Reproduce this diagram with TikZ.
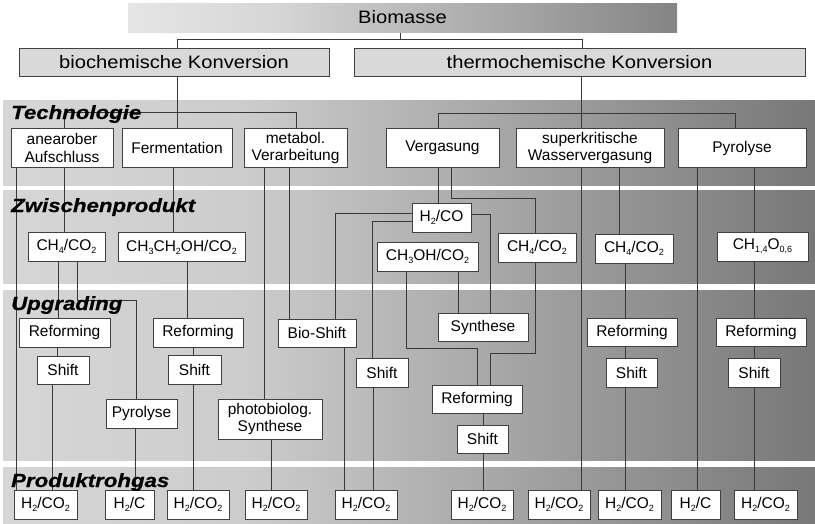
\documentclass[tikz,border=0pt]{standalone}
\usepackage{fontspec}
\setmainfont{Liberation Sans}
\newfontfamily\headfont[FakeStretch=1.17, FakeBold=0.6]{Liberation Sans}
\newfontfamily\widefont[FakeStretch=1.12]{Liberation Sans}

\definecolor{wire}{gray}{0.22}
\definecolor{frame}{gray}{0.25}
\definecolor{convfill}{gray}{0.85}
\definecolor{bandL}{gray}{0.84}
\definecolor{bandM}{gray}{0.80}
\definecolor{bandR}{gray}{0.47}
\definecolor{barL}{gray}{0.90}
\definecolor{barM}{gray}{0.84}
\definecolor{barR}{gray}{0.52}

% left-to-right darkening used for the lane bands and the top bar
\pgfdeclarehorizontalshading{bandshade}{100bp}{color(0bp)=(bandL); color(25bp)=(bandL); color(40bp)=(bandM); color(75bp)=(bandR); color(100bp)=(bandR)}
\pgfdeclarehorizontalshading{barshade}{100bp}{color(0bp)=(barL); color(25bp)=(barL); color(38bp)=(barM); color(75bp)=(barR); color(100bp)=(barR)}

\newcommand{\boxfont}{\fontsize{15.5}{17.5}\selectfont}
\newcommand{\convfont}{\widefont\fontsize{18}{20}\selectfont}
\newcommand{\lanefont}{\headfont\bfseries\itshape\fontsize{19}{21}\selectfont}
\newcommand{\tief}[1]{\raisebox{-0.35ex}{\fontsize{9}{9}\selectfont #1}}

\pgfdeclarelayer{bands}
\pgfdeclarelayer{wires}
\pgfsetlayers{bands,wires,main}

\tikzset{
  unit/.style={draw=frame, fill=white, line width=1pt, inner sep=0pt, align=center, font=\boxfont},
  conv/.style={draw=frame, fill=convfill, line width=1pt, inner sep=0pt, font=\convfont},
  wh/.style 2 args={minimum width=#1pt, minimum height=#2pt},
  lane/.style={anchor=base west, inner sep=0pt, font=\lanefont},
  link/.style={draw=wire, line width=1pt},
}

\begin{document}
\begin{tikzpicture}[x=1pt, y=-1pt]
\useasboundingbox (0,0) rectangle (815,523);

% lane bands
\begin{pgfonlayer}{bands}
  \shade[shading=bandshade] (3,100) rectangle (815,185);
  \shade[shading=bandshade] (3,190) rectangle (815,283);
  \shade[shading=bandshade] (3,290) rectangle (815,460);
  \shade[shading=bandshade] (3,467) rectangle (815,523);
\end{pgfonlayer}

% top level
\node[shade, shading=barshade, inner sep=0pt, wh={549}{29}, font=\convfont] (biomasse) at (402.5,17.5) {Biomasse};
\node[conv, wh={310}{28}] (bio) at (174,62) {biochemische Konversion};
\node[conv, wh={451}{28}] (thermo) at (579.5,62) {thermochemische Konversion};

% Technologie
\node[unit, wh={102}{39}] (anaerob) at (62,148) {anearober\\Aufschluss};
\node[unit, wh={110}{39}] (ferm) at (177,148) {Fermentation};
\node[unit, wh={103}{39}] (metabol) at (295.5,148) {metabol.\\Verarbeitung};
\node[unit, wh={113}{39}] (vergas) at (442.5,148) {Vergasung};
\node[unit, wh={148}{39}] (superkrit) at (590,148) {superkritische\\Wasservergasung};
\node[unit, wh={128}{39}] (pyro) at (742,148) {Pyrolyse};

% Zwischenprodukt
\node[unit, wh={77}{29}] (ch4a) at (66.5,246.5) {CH\tief{4}/CO\tief{2}};
\node[unit, wh={127}{29}] (ethanol) at (181.5,247) {CH\tief{3}CH\tief{2}OH/CO\tief{2}};
\node[unit, wh={59}{29}] (h2co) at (441.5,217.5) {H\tief{2}/CO};
\node[unit, wh={101}{29}] (meoh) at (427.5,256.5) {CH\tief{3}OH/CO\tief{2}};
\node[unit, wh={78}{29}] (ch4b) at (537,247.5) {CH\tief{4}/CO\tief{2}};
\node[unit, wh={78}{29}] (ch4c) at (634,248.5) {CH\tief{4}/CO\tief{2}};
\node[unit, wh={91}{29}] (chox) at (762.5,246.5) {CH\tief{1,4}O\tief{0,6}};

% Upgrading
\node[unit, wh={91}{29}] (ref1) at (64.5,332.5) {Reforming};
\node[unit, wh={52}{28}] (shift1) at (63,370) {Shift};
\node[unit, wh={71}{29}] (pyrol2) at (141.5,413.5) {Pyrolyse};
\node[unit, wh={90}{29}] (ref2) at (198,332.5) {Reforming};
\node[unit, wh={53}{29}] (shift2) at (194.5,369.5) {Shift};
\node[unit, wh={104}{40}] (photo) at (270,419) {photobiolog.\\Synthese};
\node[unit, wh={78}{28}] (bioshift) at (317,333) {Bio-Shift};
\node[unit, wh={52}{29}] (shift3) at (382,372.5) {Shift};
\node[unit, wh={90}{28}] (synth) at (483,327) {Synthese};
\node[unit, wh={90}{28}] (ref3) at (477,399) {Reforming};
\node[unit, wh={51}{28}] (shift4) at (482.5,439) {Shift};
\node[unit, wh={90}{28}] (ref4) at (632,332) {Reforming};
\node[unit, wh={51}{29}] (shift5) at (631.5,372.5) {Shift};
\node[unit, wh={90}{28}] (ref5) at (761,332) {Reforming};
\node[unit, wh={52}{29}] (shift6) at (754,372.5) {Shift};

% Produktrohgas
\node[unit, wh={63}{29}] (p1) at (45.5,504.5) {H\tief{2}/CO\tief{2}};
\node[unit, wh={49}{29}] (p2) at (129.5,504.5) {H\tief{2}/C};
\node[unit, wh={62}{29}] (p3) at (198,504.5) {H\tief{2}/CO\tief{2}};
\node[unit, wh={62}{29}] (p4) at (276,504.5) {H\tief{2}/CO\tief{2}};
\node[unit, wh={62}{29}] (p5) at (366,504.5) {H\tief{2}/CO\tief{2}};
\node[unit, wh={62}{29}] (p6) at (482,504.5) {H\tief{2}/CO\tief{2}};
\node[unit, wh={62}{29}] (p7) at (559,504.5) {H\tief{2}/CO\tief{2}};
\node[unit, wh={63}{29}] (p8) at (629.5,504.5) {H\tief{2}/CO\tief{2}};
\node[unit, wh={49}{29}] (p9) at (695.5,504.5) {H\tief{2}/C};
\node[unit, wh={63}{29}] (p10) at (765.5,504.5) {H\tief{2}/CO\tief{2}};

% lane headings
\node[lane] (lTech) at (11,119) {Technologie};
\node[lane] (lZwi) at (11,212) {Zwischenprodukt};
\node[lane] (lUp) at (11,310) {Upgrading};
\node[lane] (lProd) at (11,487) {Produktrohgas};

% connectors
\begin{pgfonlayer}{wires}
  \coordinate (hub) at (400,40);
  \draw[link] (biomasse.south -| hub) -- (hub);
  \draw[link] (bio.north -| 177,0) -- ++(0,-8) -| (thermo.north -| 582,0);

  % biochemical branch
  \draw[link] (bio.south -| 177,0) -- (ferm.north -| 177,0);
  \draw[link] (anaerob.north -| 64,0) -- ++(0,-15.5) -| (metabol.north -| 296,0);
  \draw[link] (anaerob.south -| 16,0) -- (p1.north -| 16,0);
  \draw[link] (anaerob.south -| 64,0) -- (ch4a.north -| 64,0);
  \draw[link] (ch4a.south -| 58,0) -- (ref1.north -| 58,0);
  \draw[link] (ch4a.south -| 77,0) -- ++(0,39) -| (pyrol2.north -| 136,0);
  \draw[link] (ref1.south -| 57,0) -- (shift1.north -| 57,0);
  \draw[link] (shift1.south -| 52,0) -- (p1.north -| 52,0);
  \draw[link] (pyrol2.south -| 135,0) -- (p2.north -| 135,0);
  \draw[link] (ferm.south -| 173,0) -- (ethanol.north -| 173,0);
  \draw[link] (ethanol.south -| 187,0) -- (ref2.north -| 187,0);
  \draw[link] (ref2.south -| 193,0) -- (shift2.north -| 193,0);
  \draw[link] (shift2.south -| 193,0) -- (p3.north -| 193,0);
  \draw[link] (metabol.south -| 264,0) -- (photo.north -| 264,0);
  \draw[link] (metabol.south -| 289,0) -- (bioshift.north -| 289,0);
  \draw[link] (photo.south -| 271,0) -- (p4.north -| 271,0);
  \draw[link] (bioshift.south -| 344,0) -- (p5.north -| 344,0);

  % thermochemical branch
  \draw[link] (thermo.south -| 581,0) -- (superkrit.north -| 581,0);
  \draw[link] (vergas.north -| 438,0) -- ++(0,-14.5) -| (pyro.north -| 735,0);
  \draw[link] (vergas.south -| 438,0) -- (h2co.north -| 438,0);
  \draw[link] (vergas.south -| 451,0) -- ++(0,30) -| (ch4b.north -| 535,0);
  \draw[link] (ch4b.south -| 535,0) -- ++(0,91) -| (ref3.north -| 490,0);
  \draw[link] (h2co.west |- 0,213) -| (bioshift.north -| 335,0);
  \draw[link] (h2co.west |- 0,221) -| (shift3.north -| 372,0);
  \draw[link] (h2co.east |- 0,214) -| (synth.north -| 490,0);
  \draw[link] (meoh.south -| 458,0) -- (synth.north -| 458,0);
  \draw[link] (meoh.south -| 406,0) -- ++(0,77) -| (ref3.north -| 477,0);
  \draw[link] (shift3.south -| 373,0) -- (p5.north -| 373,0);
  \draw[link] (ref3.south -| 483,0) -- (shift4.north -| 483,0);
  \draw[link] (shift4.south -| 483,0) -- (p6.north -| 483,0);
  \draw[link] (superkrit.south -| 581,0) -- (p7.north -| 581,0);
  \draw[link] (superkrit.south -| 619,0) -- (ch4c.north -| 619,0);
  \draw[link] (ch4c.south -| 625,0) -- (ref4.north -| 625,0);
  \draw[link] (ref4.south -| 625,0) -- (shift5.north -| 625,0);
  \draw[link] (shift5.south -| 625,0) -- (p8.north -| 625,0);
  \draw[link] (pyro.south -| 697,0) -- (p9.north -| 697,0);
  \draw[link] (pyro.south -| 754,0) -- (chox.north -| 754,0);
  \draw[link] (chox.south -| 754,0) -- (ref5.north -| 754,0);
  \draw[link] (ref5.south -| 754,0) -- (shift6.north -| 754,0);
  \draw[link] (shift6.south -| 754,0) -- (p10.north -| 754,0);
\end{pgfonlayer}
\end{tikzpicture}
\end{document}
